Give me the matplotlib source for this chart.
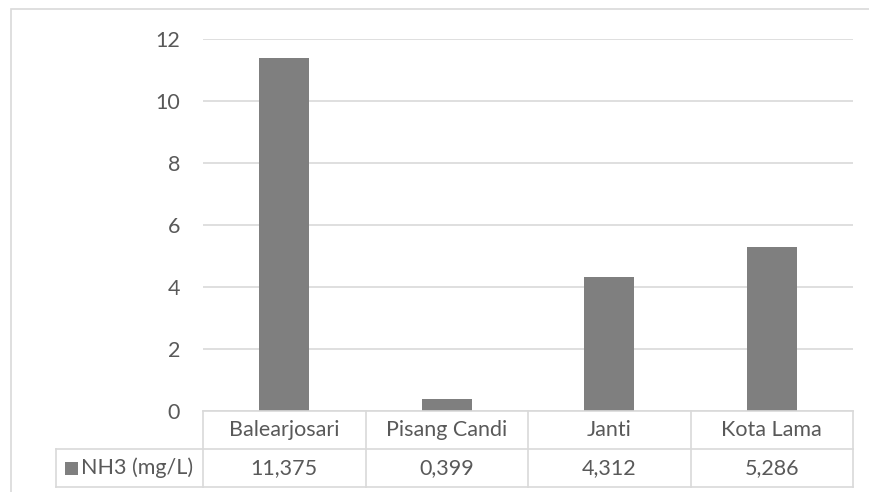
import matplotlib
matplotlib.use("Agg")
import matplotlib.pyplot as plt
from matplotlib.patches import Rectangle
from matplotlib.lines import Line2D
import matplotlib.transforms as mtransforms

# Data
categories = ["Balearjosari", "Pisang Candi", "Janti", "Kota Lama"]
nh3_values = [11.375, 0.399, 4.312, 5.286]
value_labels = ["11,375", "0,399", "4,312", "5,286"]
series_name = "NH3 (mg/L)"
y_ticks = [0, 2, 4, 6, 8, 10, 12]

W, H = 869, 492
DPI = 100
BAR_COLOR = "#7f7f7f"
GRID_COLOR = "#d9d9d9"
TEXT_COLOR = "#595959"
FONT = ["Lato", "DejaVu Sans"]
FS = 15.5

fig = plt.figure(figsize=(W / DPI, H / DPI), dpi=DPI)
fig.patch.set_facecolor("white")

def fx(px):
    return px / W

def fy(py):
    return 1 - py / H

# plot area in pixels
left, right, top, bottom = 203, 853, 39, 411
ax = fig.add_axes([fx(left), fy(bottom), fx(right - left), (bottom - top) / H])

x = list(range(len(categories)))
ax.bar(x, nh3_values, width=0.31, color=BAR_COLOR, zorder=3)
ax.set_xlim(-0.5, len(categories) - 0.5)
ax.set_ylim(0, 12)
ax.set_yticks(y_ticks)
ax.set_yticklabels([str(t) for t in y_ticks], fontfamily=FONT, fontsize=FS, color=TEXT_COLOR)
ax.tick_params(axis="y", length=0, pad=16.5)
ax.set_xticks([])
for s in ax.spines.values():
    s.set_visible(False)
ax.grid(axis="y", color=GRID_COLOR, linewidth=1.2, zorder=0)
ax.set_axisbelow(True)

# outer chart border
fig.add_artist(Rectangle((fx(11), fy(H + 5)), fx(W + 10), (H + 5 - 9) / H,
                         transform=fig.transFigure, fill=False,
                         edgecolor=GRID_COLOR, linewidth=1.2))

# data table below the plot
row_h = 38
row1_top, row1_bot = bottom, bottom + row_h
row2_bot = row1_bot + row_h
legend_left = 56
cat_w = (right - left) / len(categories)

def hline(x0, x1, y):
    fig.add_artist(Line2D([fx(x0), fx(x1)], [fy(y), fy(y)], transform=fig.transFigure,
                          color=GRID_COLOR, linewidth=1.2))

def vline(xp, y0, y1):
    fig.add_artist(Line2D([fx(xp), fx(xp)], [fy(y0), fy(y1)], transform=fig.transFigure,
                          color=GRID_COLOR, linewidth=1.2))

hline(left, right, row1_top)
hline(legend_left, right, row1_bot)
hline(legend_left, right, row2_bot)
vline(legend_left, row1_bot, row2_bot)
for i in range(len(categories) + 1):
    vline(left + i * cat_w, row1_top, row2_bot)

trans = mtransforms.blended_transform_factory(ax.transData, fig.transFigure)
for i, (c, v) in enumerate(zip(categories, value_labels)):
    fig.text(i, fy((row1_top + row1_bot) / 2), c, transform=trans, ha="center", va="center",
             fontfamily=FONT, fontsize=FS, color=TEXT_COLOR)
    fig.text(i, fy((row1_bot + row2_bot) / 2), v, transform=trans, ha="center", va="center",
             fontfamily=FONT, fontsize=FS, color=TEXT_COLOR)

# series key in the table's header cell
yc = (row1_bot + row2_bot) / 2
fig.add_artist(Rectangle((fx(65), fy(yc + 7)), fx(13), 13 / H, transform=fig.transFigure,
                         facecolor=BAR_COLOR, edgecolor="none"))
fig.text(fx(81), fy(yc), series_name, ha="left", va="center",
         fontfamily=FONT, fontsize=FS, color=TEXT_COLOR)

fig.savefig("out.png", dpi=DPI, facecolor="white")
